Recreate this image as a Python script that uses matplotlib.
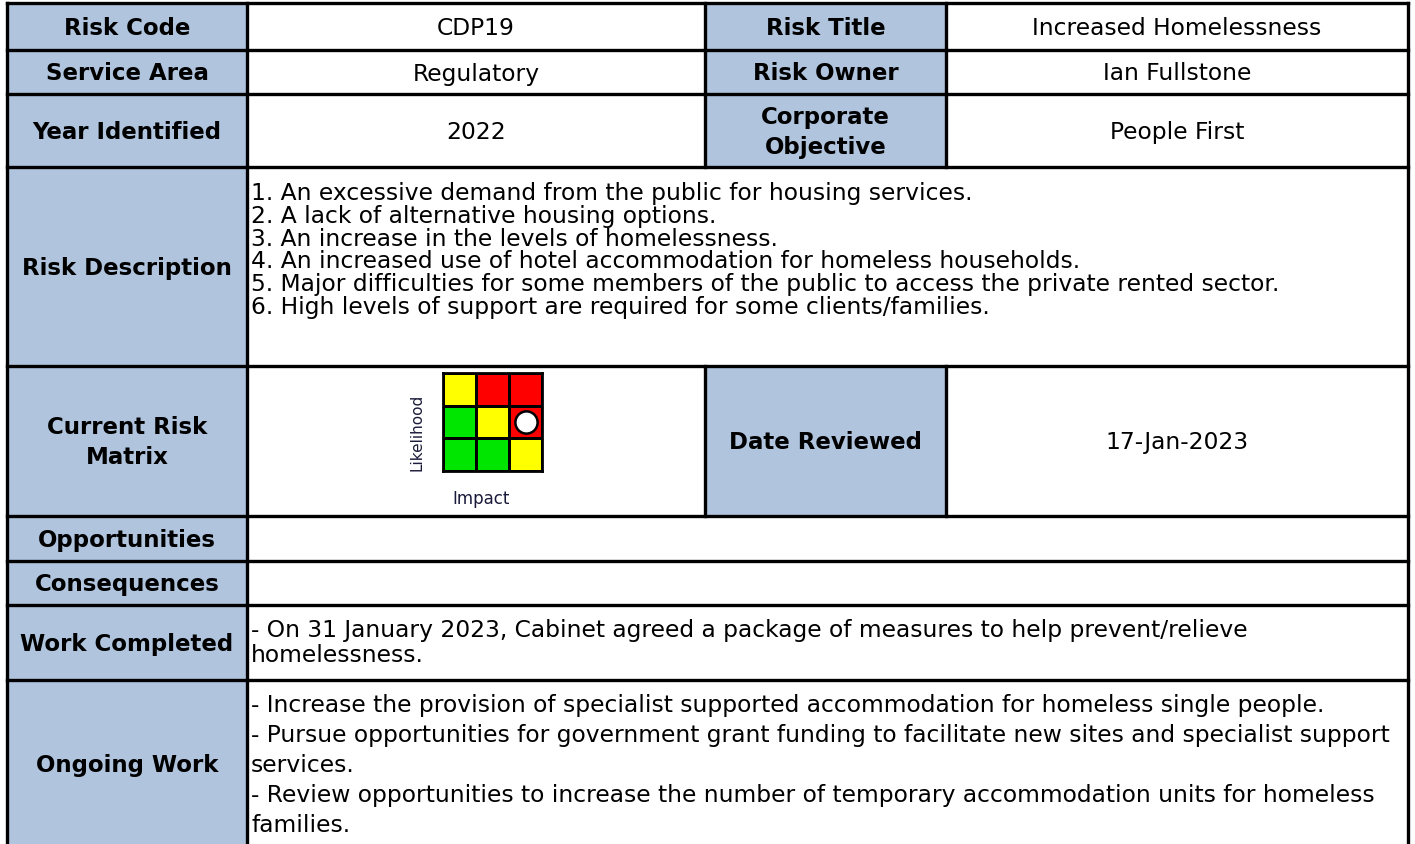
import numpy as np
import matplotlib.pyplot as plt
from matplotlib.colors import ListedColormap
from matplotlib.patches import Rectangle

plt.rcParams['font.family'] = ['DejaVu Sans']

# ---- table content ----
field_labels = ["Risk Code", "Service Area", "Year Identified", "Risk Description",
                "Current Risk\nMatrix", "Opportunities", "Consequences",
                "Work Completed", "Ongoing Work"]
field_values = ["CDP19", "Regulatory", "2022"]
side_labels = ["Risk Title", "Risk Owner", "Corporate\nObjective"]
side_values = ["Increased Homelessness", "Ian Fullstone", "People First"]
date_label = "Date Reviewed"
date_reviewed = "17-Jan-2023"

description_lines = [
    "1. An excessive demand from the public for housing services.",
    "2. A lack of alternative housing options.",
    "3. An increase in the levels of homelessness.",
    "4. An increased use of hotel accommodation for homeless households.",
    "5. Major difficulties for some members of the public to access the private rented sector.",
    "6. High levels of support are required for some clients/families.",
]
work_completed_lines = [
    "- On 31 January 2023, Cabinet agreed a package of measures to help prevent/relieve",
    "homelessness.",
]
ongoing_work_lines = [
    "- Increase the provision of specialist supported accommodation for homeless single people.",
    "- Pursue opportunities for government grant funding to facilitate new sites and specialist support",
    "services.",
    "- Review opportunities to increase the number of temporary accommodation units for homeless",
    "families.",
]

# risk matrix: 0 = green, 1 = yellow, 2 = red (top row = highest likelihood)
matrix_levels = [[1, 2, 2],
                 [0, 1, 2],
                 [0, 0, 1]]
current_impact, current_likelihood_row = 2, 1

# ---- layout (pixels) ----
W, H = 1415, 845
col_x = [7, 247, 705, 946, 1408]
row_y = [4, 51, 95, 168, 367, 517, 562, 606, 681, 849]
split_rows = [0, 1, 2, 4]
header_bg = '#B0C4DE'
fs_head = 16.5
fs_body = 16.8

fig = plt.figure(figsize=(W / 100, H / 100), dpi=100)
ax = fig.add_axes([0, 0, 1, 1])
ax.set_xlim(0, W)
ax.set_ylim(H, 0)
ax.axis('off')


def draw_lines(x, yc, lines, pitch, bold=False, **kw):
    n = len(lines)
    for i, line in enumerate(lines):
        ax.text(x, yc + (i - (n - 1) / 2) * pitch, line, va='center',
                fontsize=fs_head if bold else fs_body,
                fontweight='bold' if bold else 'normal', **kw)


def mid(a, b):
    return (a + b) / 2


# header cell fills
for i in range(len(field_labels)):
    y0, y1 = row_y[i], row_y[i + 1]
    ax.add_patch(Rectangle((col_x[0], y0), col_x[1] - col_x[0], y1 - y0, color=header_bg, lw=0))
    if i in split_rows:
        ax.add_patch(Rectangle((col_x[2], y0), col_x[3] - col_x[2], y1 - y0, color=header_bg, lw=0))

# borders
lw = 2.4
ax.hlines(row_y, col_x[0], col_x[-1], color='black', lw=lw, capstyle='projecting')
ax.vlines([col_x[0], col_x[1], col_x[-1]], row_y[0], row_y[-1], color='black', lw=lw,
          capstyle='projecting')
for i in split_rows:
    ax.vlines([col_x[2], col_x[3]], row_y[i], row_y[i + 1], color='black', lw=lw,
              capstyle='projecting')

# left labels
for i, label in enumerate(field_labels):
    draw_lines(mid(col_x[0], col_x[1]), mid(row_y[i], row_y[i + 1]) + 1, label.split('\n'), 30,
               bold=True, ha='center')

# top three rows
for i in range(3):
    yc = mid(row_y[i], row_y[i + 1]) + 1
    draw_lines(mid(col_x[1], col_x[2]), yc, [field_values[i]], 30, ha='center')
    draw_lines(mid(col_x[2], col_x[3]), yc, side_labels[i].split('\n'), 30, bold=True,
               ha='center')
    draw_lines(mid(col_x[3], col_x[4]), yc, [side_values[i]], 30, ha='center')

# free text rows
draw_lines(col_x[1] + 4, 250.5, description_lines, 22.8, ha='left')
draw_lines(col_x[1] + 4, 643, work_completed_lines, 25, ha='left')
draw_lines(col_x[1] + 4, 766, ongoing_work_lines, 30, ha='left')

# matrix row
yc = mid(row_y[4], row_y[5]) + 1
draw_lines(mid(col_x[2], col_x[3]), yc, [date_label], 30, bold=True, ha='center')
draw_lines(mid(col_x[3], col_x[4]), yc, [date_reviewed], 30, ha='center')

mx = fig.add_axes([443 / W, 1 - 472 / H, 99 / W, 98 / H])
levels = np.array(matrix_levels)
mx.pcolormesh(levels, cmap=ListedColormap(['#00E600', '#FFFF00', '#FF0000']),
              vmin=-0.5, vmax=2.5, edgecolors='black', linewidth=1.8)
mx.plot(current_impact + 0.5, current_likelihood_row + 0.5, 'o', markersize=16,
        markerfacecolor='white', markeredgecolor='black', markeredgewidth=1.8)
mx.set_xlim(0, 3)
mx.set_ylim(3, 0)
mx.set_xticks([])
mx.set_yticks([])
for s in mx.spines.values():
    s.set_linewidth(2)

ax.text(417, 432, "Likelihood", rotation=90, ha='center', va='center', fontsize=11,
        color='#1a1a3a')
ax.text(481, 499, "Impact", ha='center', va='center', fontsize=12, color='#1a1a3a')

fig.savefig('out.png', dpi=100)
